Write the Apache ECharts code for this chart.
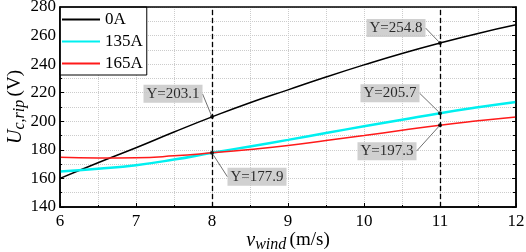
<!DOCTYPE html>
<html>
<head>
<meta charset="utf-8">
<script src="https://cdn.jsdelivr.net/npm/echarts@6/dist/echarts.min.js"></script>
<style>
  html, body { margin: 0; padding: 0; background: #fff; }
  #chart { width: 526px; height: 252px; }
</style>
</head>
<body>
<div id="chart"></div>
<script>
// 风速 (m/s)
var windSpeed = [6, 6.5, 7, 7.5, 8, 8.5, 9, 9.5, 10, 10.5, 11, 11.5, 12];
// 各电流下的纹波电压 (V)
var u0A   = [160, 171, 181.5, 192.5, 203.1, 213, 222, 231, 239.5, 247.5, 254.8, 261.5, 267.5];
var u135A = [164.8, 166.8, 169.3, 173.2, 177.9, 182.4, 187, 191.8, 196.5, 201.1, 205.7, 209.8, 213.5];
var u165A = [174.8, 174.3, 174.5, 175.8, 177.9, 180.3, 183.1, 186.5, 190, 193.7, 197.3, 200.3, 203];
var seriesNames = ["0A", "135A", "165A"];
// 标注点
var markX = [8, 8, 11, 11, 11];
var markY = [203.1, 177.9, 254.8, 205.7, 197.3];
var markLinesX = [8, 11];

var font = "Liberation Serif";
var chart = echarts.init(document.getElementById("chart"));

function pairs(ys) {
  return windSpeed.map(function (x, i) { return [x, ys[i]]; });
}

// 标签框相对点的偏移
var labelOffsets = [[-39, -23], [45, 24], [-44, -15], [-50, -20], [-53, 26]];

var axisName = {
  i: { fontFamily: font, fontStyle: "italic", fontSize: 20, color: "#000" },
  s: { fontFamily: font, fontStyle: "italic", fontSize: 16, color: "#000", padding: [9, 0, 0, 0] },
  n: { fontFamily: font, fontSize: 19, color: "#000" }
};

chart.setOption({
  animation: false,
  grid: { left: 60, right: 10, top: 7, bottom: 45, containLabel: false, outerBoundsMode: "none" },
  legend: {
    left: 60, top: 7,
    orient: "vertical",
    data: seriesNames.map(function (n) { return { name: n, icon: "rect" }; }),
    backgroundColor: "#fff",
    borderColor: "#000",
    borderWidth: 1,
    borderRadius: 0,
    padding: [4, 4, 3, 2],
    itemWidth: 38,
    itemHeight: 2,
    itemGap: 5,
    textStyle: { fontFamily: font, fontSize: 17, color: "#000" }
  },
  xAxis: {
    type: "value",
    min: 6, max: 12, interval: 1,
    name: "{i|v}{s|wind} {n|(m/s)}",
    nameLocation: "middle",
    nameMoveOverlap: false,
    nameGap: 21,
    nameTextStyle: { rich: axisName },
    axisLine: { show: true, onZero: false, lineStyle: { color: "#000", width: 1.5 } },
    axisTick: { inside: true, length: 4, lineStyle: { color: "#000" } },
    minorTick: { show: true, splitNumber: 2, length: 2, lineStyle: { color: "#000" } },
    axisLabel: { fontFamily: font, fontSize: 17, color: "#000", margin: 6 },
    splitLine: { show: true, lineStyle: { color: "#ccc", type: "dotted" } },
    minorSplitLine: { show: true, lineStyle: { color: "#ccc", type: "dotted" } }
  },
  yAxis: [{
    type: "value",
    min: 140, max: 280, interval: 20,
    name: "{i|U}{s|c,rip} {n|(V)}",
    nameLocation: "middle",
    nameMoveOverlap: false,
    nameGap: 32,
    nameTextStyle: { rich: axisName },
    axisLine: { show: true, lineStyle: { color: "#000", width: 1.5 } },
    axisTick: { inside: true, length: 4, lineStyle: { color: "#000" } },
    minorTick: { show: true, splitNumber: 2, length: 2, lineStyle: { color: "#000" } },
    axisLabel: { fontFamily: font, fontSize: 17, color: "#000", margin: 4 },
    splitLine: { show: true, lineStyle: { color: "#ccc", type: "dotted" } },
    minorSplitLine: { show: true, lineStyle: { color: "#ccc", type: "dotted" } }
  }, {
    type: "value",
    position: "right",
    min: 140, max: 280, interval: 20,
    axisLine: { show: true, lineStyle: { color: "#000", width: 1.5 } },
    axisTick: { inside: true, length: 4, lineStyle: { color: "#000" } },
    minorTick: { show: true, splitNumber: 2, length: 3, lineStyle: { color: "#000" } },
    axisLabel: { show: false },
    splitLine: { show: false }
  }],
  graphic: [{
    type: "rect",
    shape: { x: 60, y: 7, width: 456, height: 200 },
    style: { fill: "none", stroke: "#000", lineWidth: 1.5 },
    silent: true,
    z: 10
  }],
  series: [
    {
      name: seriesNames[0], type: "line", data: pairs(u0A),
      symbol: "none", smooth: true,
      lineStyle: { color: "#000", width: 1.5 }, itemStyle: { color: "#000" }
    },
    {
      name: seriesNames[1], type: "line", data: pairs(u135A),
      symbol: "none", smooth: true,
      lineStyle: { color: "#00f0f0", width: 2.5 }, itemStyle: { color: "#00f0f0" }
    },
    {
      name: seriesNames[2], type: "line", data: pairs(u165A),
      symbol: "none", smooth: true,
      lineStyle: { color: "#ff1a1a", width: 1.5 }, itemStyle: { color: "#ff1a1a" }
    },
    {
      name: "marks", type: "scatter",
      data: markX.map(function (x, i) { return [x, markY[i]]; }),
      symbolSize: 4,
      itemStyle: { color: "#000" },
      z: 5,
      label: {
        show: true,
        position: "inside",
        formatter: function (p) { return "Y=" + p.value[1].toFixed(1); },
        fontFamily: font, fontSize: 15, color: "#000",
        backgroundColor: "#c4c4c4",
        padding: [2, 3, 1, 3]
      },
      labelLine: { show: true, lineStyle: { color: "#707070", width: 1 } },
      labelLayout: function (p) {
        var o = labelOffsets[p.dataIndex];
        return { dx: o[0], dy: o[1] };
      },
      markLine: {
        silent: true,
        symbol: "none",
        label: { show: false },
        lineStyle: { color: "#000", type: [5, 3], width: 1.3 },
        data: markLinesX.map(function (x) { return { xAxis: x }; })
      }
    }
  ]
});
</script>
</body>
</html>
